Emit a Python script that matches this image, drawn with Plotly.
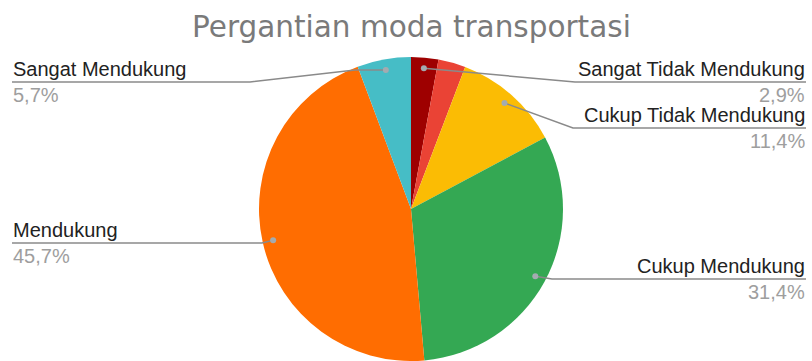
import math
import plotly.graph_objects as go

# ---- data ----
categories = ["Sangat Tidak Mendukung", "Tidak Mendukung", "Cukup Tidak Mendukung",
              "Cukup Mendukung", "Mendukung", "Sangat Mendukung"]
values = [2.9, 2.9, 11.4, 31.4, 45.7, 5.7]
colors = ["#9e0000", "#ea4335", "#fbbc04", "#34a853", "#ff6d01", "#46bdc6"]
title_text = "Pergantian moda transportasi"
labeled = [0, 2, 3, 4, 5]   # slices with a callout label

# ---- layout geometry (pixels) ----
W, H = 812, 361
CX, CY, R = 411, 209, 152
DOT_R = 0.93


def px(x):
    return x / W


def py(y):
    return 1 - y / H


fig = go.Figure(go.Pie(
    labels=categories, values=values, sort=False, direction="clockwise", rotation=0,
    marker=dict(colors=colors, line=dict(width=0)), textinfo="none",
    hoverinfo="label+percent", showlegend=False,
    domain=dict(x=[(CX - R) / W, (CX + R) / W], y=[(H - CY - R) / H, (H - CY + R) / H]),
))

# callout placement per slice index: side, underline y, intermediate bend points
callouts = {
    0: dict(side="right", line_y=82, bends=[(575, 82)]),
    2: dict(side="right", line_y=128, bends=[(573, 128)]),
    3: dict(side="right", line_y=279, bends=[(552, 279)]),
    4: dict(side="left", line_y=243, bends=[(262, 243)]),
    5: dict(side="left", line_y=82, bends=[(355, 70), (250, 82)]),
}

total = sum(values)
cum = 0.0
mids = []
for v in values:
    mids.append((cum + v / 2) / total * 360.0)
    cum += v

shapes = []
annotations = []
LINE_COL = "#8a8a8a"
LBL_FONT = "Liberation Sans, Arial, sans-serif"
for i in labeled:
    c = callouts[i]
    a = math.radians(mids[i])
    dx = CX + DOT_R * R * math.sin(a)
    dy = CY - DOT_R * R * math.cos(a)
    end_x = 806 if c["side"] == "right" else 12
    pts = [(dx, dy)] + c["bends"] + [(end_x, c["line_y"])]
    path = "M " + " L ".join(f"{px(x):.5f},{py(y):.5f}" for x, y in pts)
    shapes.append(dict(type="path", xref="paper", yref="paper", path=path,
                       line=dict(color=LINE_COL, width=1.5)))
    shapes.append(dict(type="circle", xref="paper", yref="paper",
                       x0=px(dx - 3), x1=px(dx + 3), y0=py(dy + 3), y1=py(dy - 3),
                       fillcolor="#a3abb0", line=dict(width=0)))
    xa = "right" if c["side"] == "right" else "left"
    pct = f"{values[i]:.1f}".replace(".", ",") + "%"
    annotations.append(dict(x=px(end_x), y=py(c["line_y"] - 1), xref="paper", yref="paper",
                            text=categories[i], showarrow=False, xanchor=xa, yanchor="bottom",
                            height=22, valign="bottom", borderpad=0,
                            font=dict(family=LBL_FONT, size=20, color="#222222")))
    annotations.append(dict(x=px(end_x), y=py(c["line_y"] + 1), xref="paper", yref="paper",
                            text=pct, showarrow=False, xanchor=xa, yanchor="top",
                            height=22, valign="top", borderpad=0,
                            font=dict(family=LBL_FONT, size=20, color="#9e9e9e")))

annotations.append(dict(x=px(411), y=py(27), xref="paper", yref="paper", text=title_text,
                        showarrow=False, xanchor="center", yanchor="middle",
                        font=dict(family="DejaVu Sans, Verdana, sans-serif", size=29.5, color="#7a7a7a")))

fig.update_layout(
    width=W, height=H, margin=dict(l=0, r=0, t=0, b=0),
    paper_bgcolor="white", plot_bgcolor="white",
    shapes=shapes, annotations=annotations,
)

fig.write_html("out.html")
